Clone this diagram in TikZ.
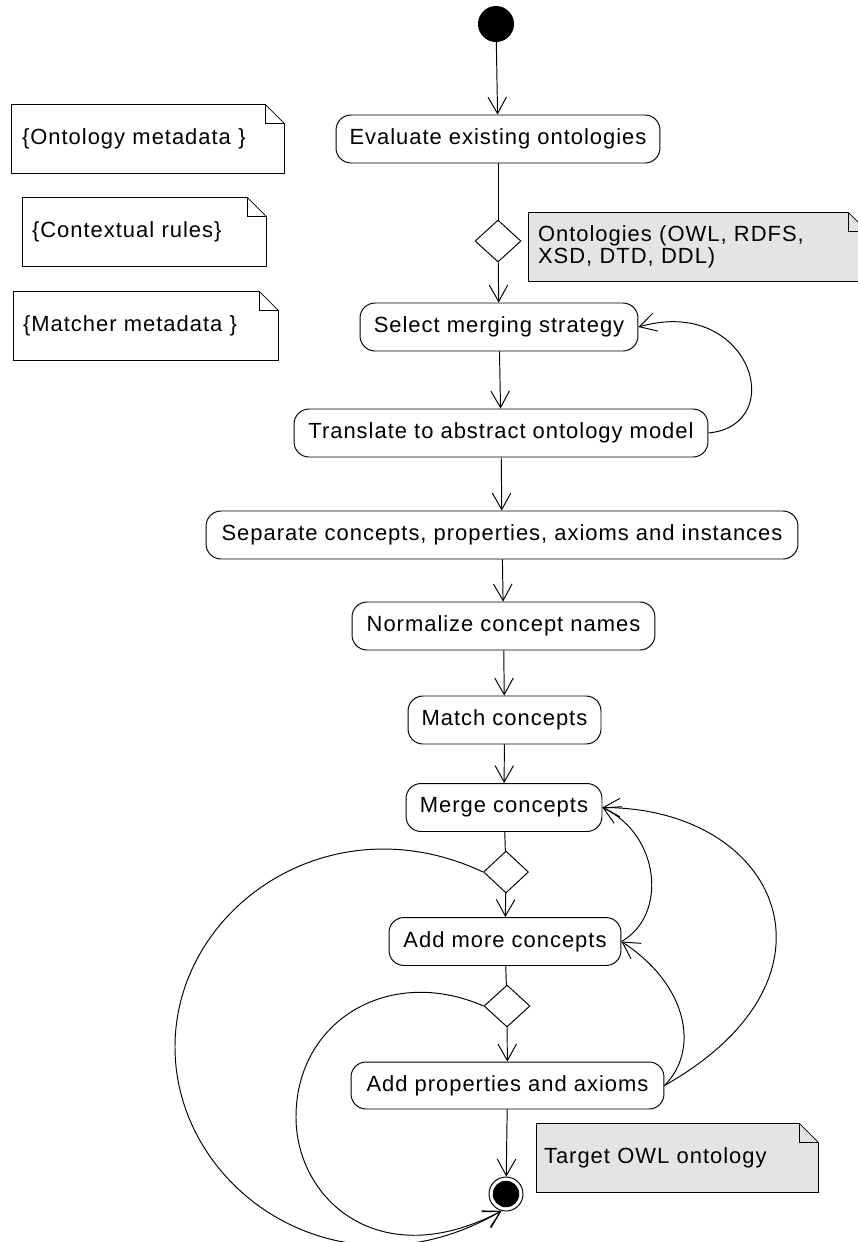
\documentclass[tikz,border=0pt]{standalone}
\usepackage{fontspec}
\setmainfont{Liberation Sans}[LetterSpace=4.5]
\usetikzlibrary{arrows.meta,shapes.geometric,backgrounds}

\definecolor{notefill}{RGB}{228,228,228}

\tikzset{
  act/.style={draw, rounded corners=0.3cm, inner sep=0pt, minimum height=0.96cm},
  decision/.style={draw, diamond, inner sep=0pt, minimum width=0.92cm, minimum height=0.84cm},
  flow/.style={-{Straight Barb[length=0.33cm,width=0.37cm]}},
  notetext/.style={inner ysep=0pt, minimum height=1.36cm, align=left},
  initial/.style={circle, fill=black, draw=black, minimum size=0.7cm, inner sep=0pt},
  final/.style={circle, draw=black, minimum size=0.68cm, inner sep=0pt,
    path picture={\fill (path picture bounding box.center) circle (0.265cm);}},
}

% outline of a UML note with a folded corner, drawn behind the node
\newcommand\notefold[2]{%
  \begin{scope}[on background layer]
    \draw[fill=#1] (#2.north west) -- ([xshift=-0.38cm]#2.north east)
      -- ([yshift=-0.38cm]#2.north east) -- (#2.south east)
      -- (#2.south west) -- cycle;
    \draw ([xshift=-0.38cm]#2.north east)
      -- ([xshift=-0.38cm,yshift=-0.38cm]#2.north east)
      -- ([yshift=-0.38cm]#2.north east);
  \end{scope}}

\begin{document}
\begin{tikzpicture}[x=0.02cm, y=-0.02cm, line width=0.55pt,
  font=\fontsize{12.5}{12.8}\selectfont]
\useasboundingbox (0,0) rectangle (858,1242);

% notes
\node[notetext, text width=5.04cm, inner xsep=0.2cm] (nonto) at (148,139) {\{Ontology metadata \}};
\notefold{white}{nonto}
\node[notetext, text width=4.5cm, inner xsep=0.18cm] (nctx) at (144.5,232) {\{Contextual rules\}};
\notefold{white}{nctx}
\node[notetext, text width=4.92cm, inner xsep=0.18cm] (nmatch) at (146,326) {\{Matcher metadata \}};
\notefold{white}{nmatch}
\node[notetext, text width=6.4cm, inner xsep=0.18cm] (nsrc) at (698,247) {Ontologies (OWL, RDFS,\\XSD, DTD, DDL)};
\notefold{notefill}{nsrc}
\node[notetext, text width=5.34cm, inner xsep=0.14cm] (ntgt) at (677.5,1158) {Target OWL ontology};
\notefold{notefill}{ntgt}

% activities
\node[initial] (start) at (496,24) {};
\node[act, minimum width=6.48cm] (eval) at (498,139) {Evaluate existing ontologies};
\node[decision] (d0) at (498,241) {};
\node[act, minimum width=5.56cm] (sel) at (499,327) {Select merging strategy};
\node[act, minimum width=8.28cm] (trans) at (501,433) {Translate to abstract ontology model};
\node[act, minimum width=11.84cm] (sep) at (502,535) {Separate concepts, properties, axioms and instances};
\node[act, minimum width=6.06cm] (norm) at (503.5,626) {Normalize concept names};
\node[act, minimum width=3.86cm] (match) at (504.5,720) {Match concepts};
\node[act, minimum width=3.92cm] (merge) at (504,807.5) {Merge concepts};
\node[decision, minimum width=0.9cm] (d1) at (506,872) {};
\node[act, minimum width=4.64cm] (more) at (505,941.5) {Add more concepts};
\node[decision] (d2) at (507,1006) {};
\node[act, minimum width=6.26cm, minimum height=0.94cm] (props) at (507.5,1085.5) {Add properties and axioms};
\node[final] (end) at (506,1194) {};

% main flow
\draw[flow] (start) -- (eval);
\draw (eval) -- (d0);
\draw[flow] (d0) -- (sel);
\draw[flow] (sel) -- (trans);
\draw[flow] (trans) -- (sep);
\draw[flow] (sep) -- (norm);
\draw[flow] (norm) -- (match);
\draw[flow] (match) -- (merge);
\draw (merge) -- (d1);
\draw[flow] (d1) -- (more);
\draw (more) -- (d2);
\draw[flow] (d2) -- (props);
\draw[flow] (props) -- (end);

% loops on the right
\draw[flow] (trans.east) .. controls (790,425) and (750,295) .. (sel.east);
\draw[flow] (more.east) .. controls (668,915) and (660,835) .. (merge.east);
\draw[flow] (props.east) .. controls (855,978) and (780,808) .. (merge.east);
\draw[flow] (props.east) .. controls (700,1050) and (688,985) .. (more.east);

% loops on the left, from the decisions to the final node
\draw[flow] (d1.west) .. controls (330,800) and (175,908) .. (175,1047)
  .. controls (175,1190) and (340,1305) .. (end.255);
\draw[flow] (d2.west) .. controls (390,965) and (296,1020) .. (296,1117)
  .. controls (296,1200) and (380,1275) .. (end.255);
\end{tikzpicture}
\end{document}
